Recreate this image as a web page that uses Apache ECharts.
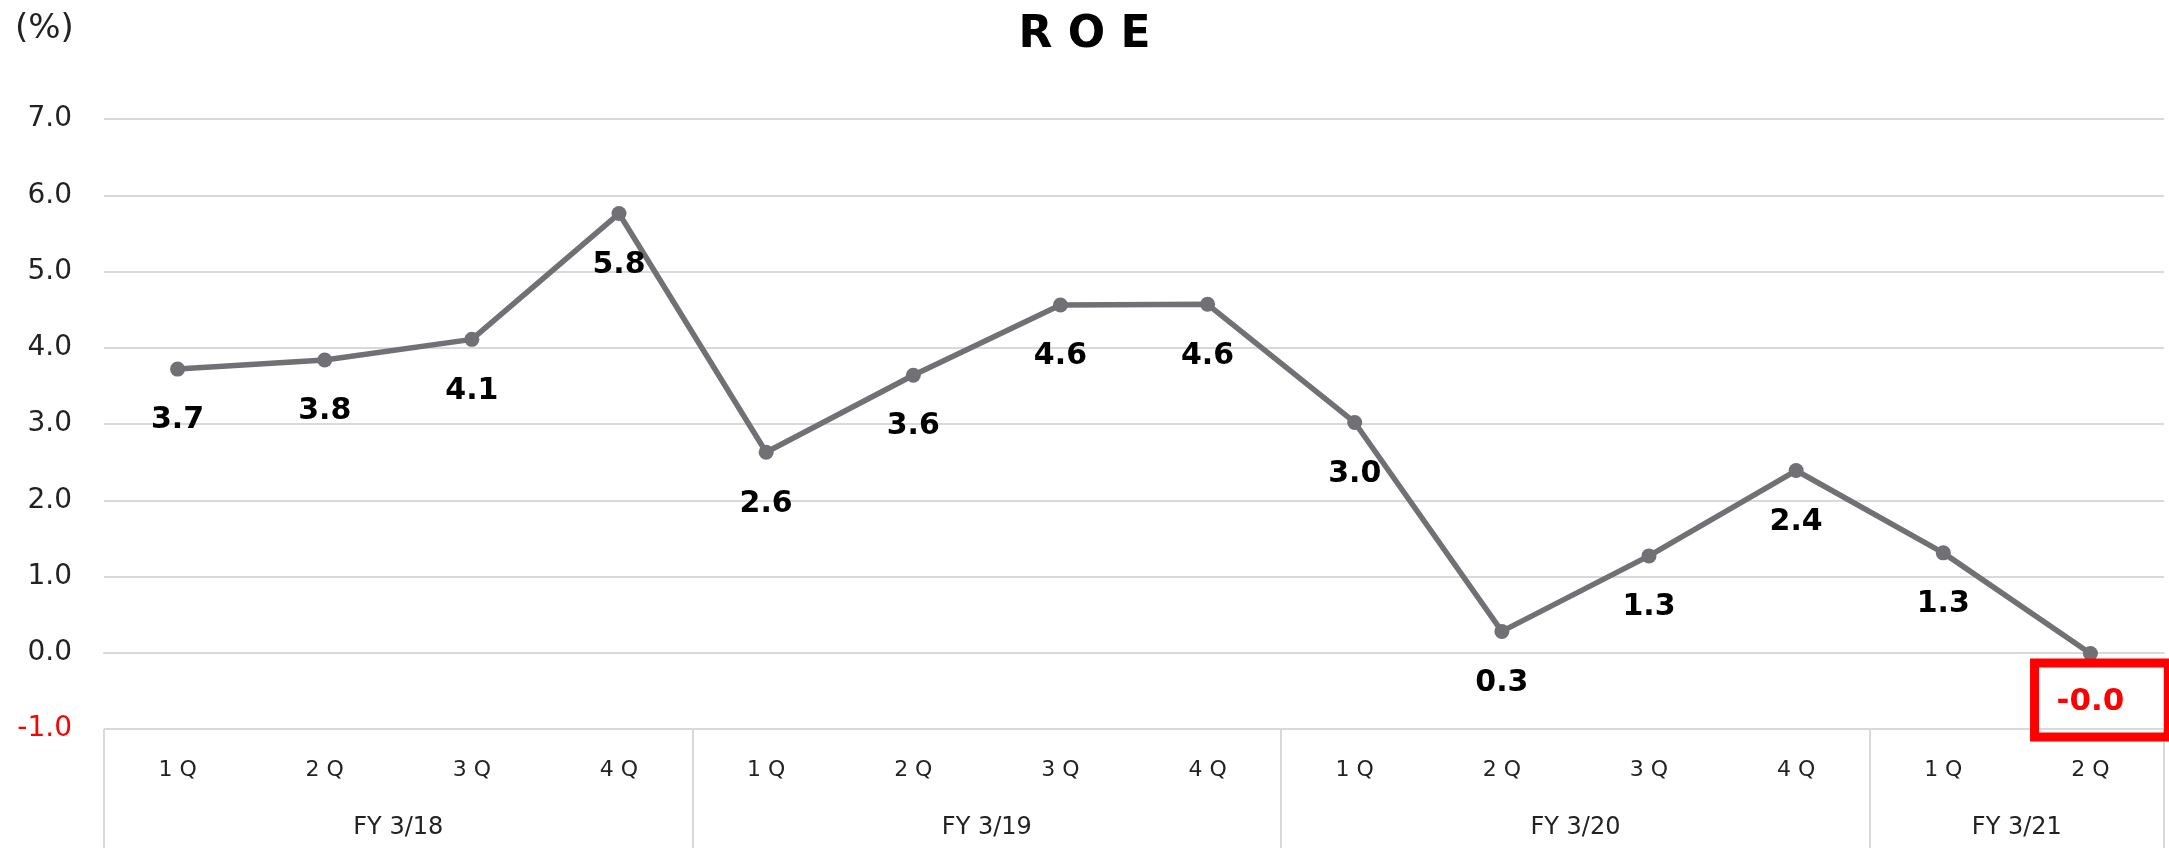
<!DOCTYPE html>
<html>
<head>
<meta charset="utf-8">
<script src="https://cdn.jsdelivr.net/npm/echarts@6/dist/echarts.min.js"></script>
<style>
html,body{margin:0;padding:0;background:#fff;}
#chart{width:2169px;height:848px;}
</style>
</head>
<body>
<div id="chart"></div>
<script>
// ---- data ----
const quarters = ['1 Q','2 Q','3 Q','4 Q','1 Q','2 Q','3 Q','4 Q','1 Q','2 Q','3 Q','4 Q','1 Q','2 Q'];
const roe = [3.72, 3.84, 4.11, 5.76, 2.63, 3.64, 4.56, 4.57, 3.02, 0.28, 1.27, 2.39, 1.31, -0.01];
const fiscalYears = ['FY 3/18','FY 3/19','FY 3/20','FY 3/21'];
const quartersPerYear = [4, 4, 4, 2];
const yTicks = [-1, 0, 1, 2, 3, 4, 5, 6, 7];

// group boundaries and centers derived from group sizes
const boundaries = [0];
const centers = [];
quartersPerYear.forEach(n => {
  const start = boundaries[boundaries.length - 1];
  centers.push(start + n / 2);
  boundaries.push(start + n);
});

const gridColor = '#d9d9d9';
const lineColor = '#707075';

const seriesData = roe.map(v => {
  if (v < 0) {
    return {
      value: v,
      label: {
        color: '#ff0000',
        fontSize: 31,
        borderColor: '#ff0000',
        borderWidth: 9,
        padding: [23, 44, 20, 22],
        distance: 2,
        offset: [11, 0]
      }
    };
  }
  return v;
});

const chart = echarts.init(document.getElementById('chart'));
chart.setOption({
  animation: false,
  backgroundColor: '#ffffff',
  title: [
    {
      text: 'R O E',
      left: 'center',
      top: 9,
      textStyle: { fontFamily: 'DejaVu Sans', fontWeight: 'bold', fontSize: 44, color: '#000' }
    },
    {
      text: '(%)',
      left: 10,
      top: 7,
      textStyle: { fontFamily: 'DejaVu Sans', fontWeight: 'normal', fontSize: 34, color: '#222' }
    }
  ],
  grid: { left: 104, right: 5, top: 119, bottom: 119, containLabel: false },
  xAxis: [
    {
      type: 'category',
      data: quarters,
      boundaryGap: true,
      position: 'bottom',
      axisLine: { show: true, lineStyle: { color: gridColor, width: 2 } },
      axisTick: { show: false },
      axisLabel: { margin: 30, fontSize: 22, color: '#222', fontFamily: 'DejaVu Sans' },
      splitLine: { show: false }
    },
    {
      type: 'value',
      min: 0,
      max: quarters.length,
      interval: 1,
      position: 'bottom',
      axisLine: { show: false },
      splitLine: { show: false },
      axisTick: {
        show: true,
        customValues: boundaries,
        length: 125,
        lineStyle: { color: gridColor, width: 2 }
      },
      axisLabel: {
        customValues: centers,
        margin: 87,
        fontSize: 24,
        color: '#222',
        fontFamily: 'DejaVu Sans',
        formatter: v => {
          const i = centers.indexOf(v);
          return i >= 0 ? fiscalYears[i] : '';
        }
      }
    }
  ],
  yAxis: {
    type: 'value',
    min: yTicks[0],
    max: yTicks[yTicks.length - 1],
    interval: 1,
    axisLine: { show: false },
    axisTick: { show: false },
    splitLine: { show: true, lineStyle: { color: gridColor, width: 2 } },
    axisLabel: {
      margin: 32,
      fontSize: 28,
      fontFamily: 'DejaVu Sans',
      color: v => (v < 0 ? '#ff0000' : '#222'),
      formatter: v => v.toFixed(1)
    }
  },
  series: [
    {
      type: 'line',
      xAxisIndex: 0,
      data: seriesData,
      symbol: 'circle',
      symbolSize: 15,
      lineStyle: { color: lineColor, width: 5.5 },
      itemStyle: { color: lineColor },
      label: {
        show: true,
        position: 'bottom',
        distance: 29,
        fontFamily: 'DejaVu Sans',
        fontWeight: 'bold',
        fontSize: 30,
        color: '#000',
        formatter: p => p.value.toFixed(1)
      }
    }
  ]
});
</script>
</body>
</html>
